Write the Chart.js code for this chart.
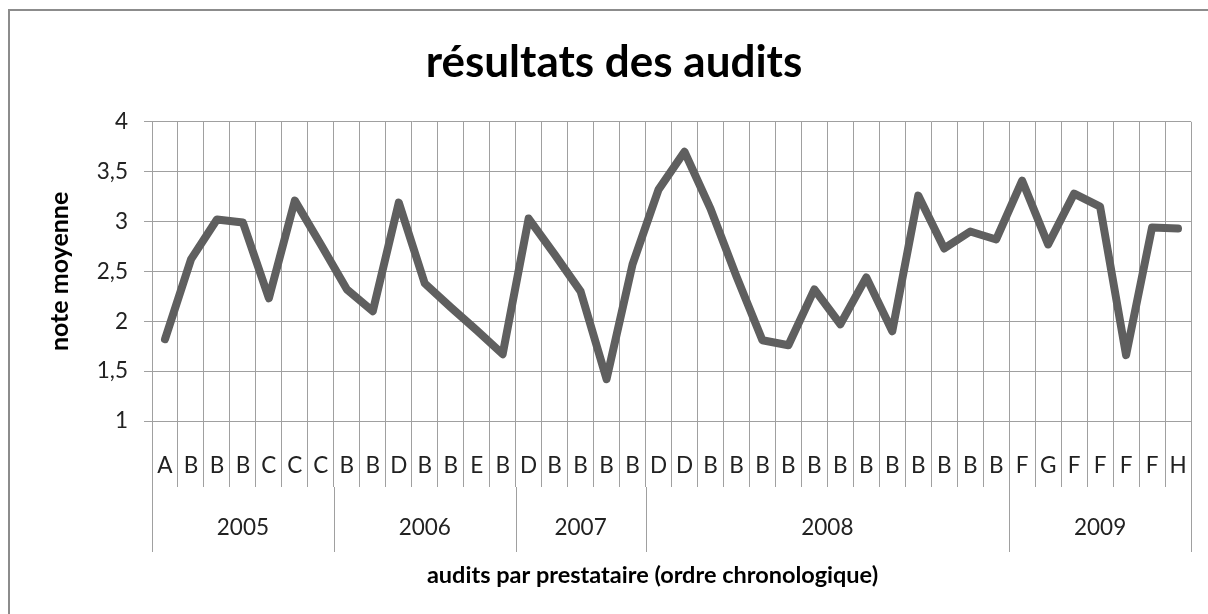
<!DOCTYPE html>
<html>
<head>
<meta charset="utf-8">
<script src="https://cdn.jsdelivr.net/npm/chart.js@4/dist/chart.umd.min.js"></script>
<style>
  body { margin: 0; background: #fff; }
  canvas { display: block; }
</style>
</head>
<body>
<canvas id="audits" width="1208" height="614"></canvas>
<script>
// prestataire audité, dans l'ordre chronologique
var prestataires = ['A','B','B','B','C','C','C',
  'B','B','D','B','B','E','B',
  'D','B','B','B','B',
  'D','D','B','B','B','B','B','B','B','B','B','B','B','B',
  'F','G','F','F','F','F','H'];
var annees = ['2005', '2006', '2007', '2008', '2009'];
var auditsParAnnee = [7, 7, 5, 14, 7];
var notes = [1.82, 2.62, 3.02, 2.99, 2.23, 3.21, 2.77,
  2.32, 2.10, 3.19, 2.38, 2.14, 1.91, 1.67,
  3.03, 2.67, 2.30, 1.42, 2.57,
  3.32, 3.70, 3.13, 2.45, 1.81, 1.76, 2.32, 1.97, 2.44, 1.90, 3.26, 2.73, 2.90, 2.82,
  3.41, 2.77, 3.28, 3.15, 1.66, 2.94, 2.93];
var yTicks = [1, 1.5, 2, 2.5, 3, 3.5, 4];
var xTitre = 'audits par prestataire (ordre chronologique)';

var gridColor = '#a0a0a0';
var textFont = 'Lato';

// cadre du graphique (bord gauche et haut)
var cadre = {
  id: 'cadre',
  beforeDraw: function (chart) {
    var ctx = chart.ctx;
    ctx.save();
    ctx.fillStyle = '#fff';
    ctx.fillRect(0, 0, chart.width, chart.height);
    ctx.strokeStyle = '#8c8c8c';
    ctx.lineWidth = 2;
    ctx.beginPath();
    ctx.moveTo(9, chart.height);
    ctx.lineTo(9, 10);
    ctx.lineTo(chart.width, 10);
    ctx.stroke();
    ctx.restore();
  }
};

// deuxième niveau de l'axe des catégories : les années, puis le titre de l'axe
var niveauAnnees = {
  id: 'niveauAnnees',
  afterDraw: function (chart) {
    var xs = chart.scales.x;
    var ctx = chart.ctx;
    var pas = xs.getPixelForValue(1) - xs.getPixelForValue(0);
    var y0 = xs.top + 66, y1 = xs.top + 131;
    ctx.save();
    ctx.strokeStyle = gridColor;
    ctx.lineWidth = 1;
    ctx.fillStyle = '#222';
    ctx.font = '22.5px ' + textFont;
    ctx.textAlign = 'center';
    ctx.textBaseline = 'middle';
    var debut = 0;
    auditsParAnnee.forEach(function (n, k) {
      var g = xs.getPixelForValue(debut) - pas / 2;
      var d = xs.getPixelForValue(debut + n - 1) + pas / 2;
      ctx.beginPath();
      ctx.moveTo(Math.round(g) + 0.5, y0);
      ctx.lineTo(Math.round(g) + 0.5, y1);
      if (k === auditsParAnnee.length - 1) {
        ctx.moveTo(Math.round(d) + 0.5, y0);
        ctx.lineTo(Math.round(d) + 0.5, y1);
      }
      ctx.stroke();
      ctx.fillText(annees[k], (g + d) / 2, xs.top + 107);
      debut += n;
    });
    ctx.fillStyle = '#000';
    ctx.font = 'bold 23.5px ' + textFont;
    ctx.fillText(xTitre, (xs.left + xs.right) / 2 - 19, xs.top + 154);
    ctx.restore();
  }
};

var ctx = document.getElementById('audits').getContext('2d');
var chart = new Chart(ctx, {
  type: 'line',
  data: {
    labels: prestataires,
    datasets: [{
      label: 'note moyenne',
      data: notes,
      borderColor: '#5f5f5f',
      borderWidth: 8,
      borderJoinStyle: 'round',
      borderCapStyle: 'round',
      pointRadius: 0,
      tension: 0,
      fill: false
    }]
  },
  options: {
    responsive: false,
    animation: false,
    layout: { padding: { left: 37, right: 17, top: 0, bottom: 0 } },
    plugins: {
      legend: { display: false },
      tooltip: { enabled: false },
      title: {
        display: true,
        text: 'résultats des audits',
        color: '#000',
        font: { family: textFont, size: 44, weight: 'bold' },
        padding: { top: 36, bottom: 33 }
      }
    },
    scales: {
      x: {
        type: 'category',
        offset: true,
        grid: { offset: true, color: gridColor, tickLength: 66, tickColor: gridColor },
        border: { color: gridColor },
        ticks: {
          autoSkip: false, maxRotation: 0, padding: -35,
          color: '#222', font: { family: textFont, size: 22.5 }
        },
        afterFit: function (scale) { scale.height = 193; }
      },
      y: {
        min: 1,
        max: 4,
        afterBuildTicks: function (scale) {
          scale.ticks = yTicks.map(function (v) { return { value: v }; });
        },
        grid: { color: gridColor, tickLength: 8, tickColor: gridColor },
        border: { color: gridColor },
        ticks: {
          padding: 16,
          color: '#222',
          font: { family: textFont, size: 22.5 },
          callback: function (v) { return String(v).replace('.', ','); }
        },
        title: {
          display: true,
          text: 'note moyenne',
          color: '#000',
          font: { family: textFont, size: 25, weight: 'bold' },
          padding: { top: 8, bottom: 0 }
        },
        afterFit: function (scale) { scale.width = 115; }
      }
    }
  },
  plugins: [cadre, niveauAnnees]
});
</script>
</body>
</html>
